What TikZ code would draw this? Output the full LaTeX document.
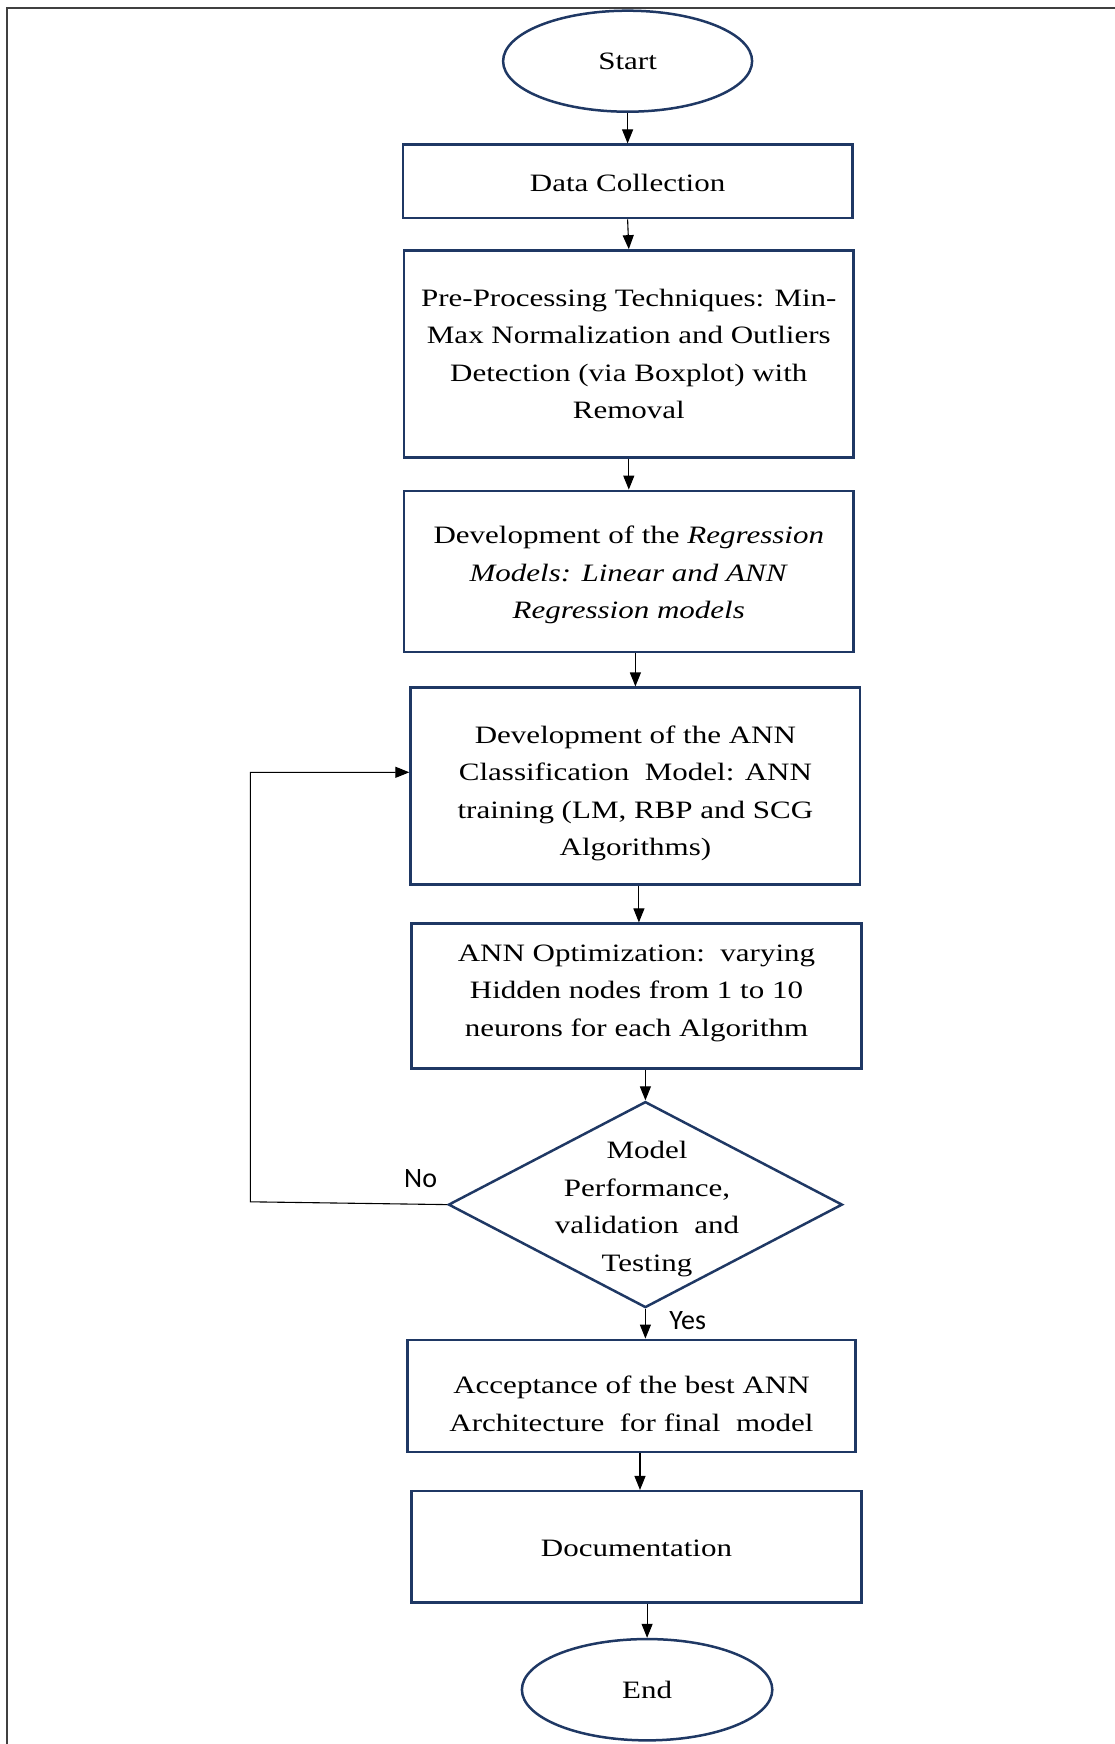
\documentclass[tikz,border=0pt]{standalone}
\usepackage{fontspec}
\setmainfont{Liberation Serif}[FakeStretch=1.24]
\newfontfamily\labfont{Carlito}
\usetikzlibrary{shapes.geometric,arrows.meta}
\definecolor{navy}{RGB}{31,56,100}
\newcommand{\mvtxt}[2]{\raisebox{#1}[\height][\depth]{#2}}
\begin{document}
\begin{tikzpicture}[x=1pt,y=-1pt,
  every node/.style={font=\fontsize{25}{37.5}\selectfont},
  box/.style={draw=navy, line width=2.5pt, rectangle, align=center, inner sep=0pt},
  term/.style={draw=navy, line width=2.5pt, ellipse, inner sep=0pt},
  arr/.style={draw=black, line width=1.1pt, -{Triangle[width=11pt,length=14pt]}},
  lab/.style={font=\labfont\fontsize{28}{30}\selectfont, inner sep=0pt}]
\useasboundingbox (0,0) rectangle (1115,1744);
\draw[line width=2.5pt, black!75] (7,1744) -- (7,8) -- (1115,8);

\node[term, minimum width=249pt, minimum height=101pt] (start) at (627.6,61.2) {Start};
\node[box, minimum width=449.6pt, minimum height=73.4pt] (data) at (627.6,181.4) {\mvtxt{-2pt}{Data Collection}};
\node[box, minimum width=449.5pt, minimum height=207pt] (pre) at (628.8,353.9)
  {\mvtxt{-1pt}{\begin{tabular}{@{}c@{}}Pre-Processing Techniques: Min-\\Max Normalization and Outliers\\Detection (via Boxplot) with\\Removal\end{tabular}}};
\node[box, minimum width=449.5pt, minimum height=161.3pt] (reg) at (628.8,571.5)
  {\mvtxt{-2pt}{\begin{tabular}{@{}c@{}}Development of the \textit{Regression}\\\textit{Models: Linear and ANN}\\\textit{Regression models}\end{tabular}}};
\node[box, minimum width=449.6pt, minimum height=197pt] (cls) at (635.4,786.2)
  {\mvtxt{-6pt}{\begin{tabular}{@{}c@{}}Development of the ANN\\Classification\ \ Model: ANN\\training (LM, RBP and SCG\\Algorithms)\end{tabular}}};
\node[box, minimum width=449.6pt, minimum height=144.7pt] (opt) at (636.5,996)
  {\mvtxt{5pt}{\begin{tabular}{@{}c@{}}ANN Optimization:\ \ varying\\Hidden nodes from 1 to 10\\neurons for each Algorithm\end{tabular}}};
\node[diamond, draw=navy, line width=2.5pt, minimum width=394pt, minimum height=206pt, inner sep=0pt] (dia) at (645.4,1204.6) {};
\node[align=center, inner sep=0pt] (diatext) at (647,1209) {Model\\Performance,\\validation\ \ and\\Testing};
\node[box, minimum width=448.4pt, minimum height=112.4pt] (acc) at (631.5,1396)
  {\mvtxt{-9pt}{\begin{tabular}{@{}c@{}}Acceptance of the best ANN\\Architecture\ \ for final\ \ model\end{tabular}}};
\node[box, minimum width=449.6pt, minimum height=111.2pt] (doc) at (636.5,1546.8) {\mvtxt{-2pt}{Documentation}};
\node[term, minimum width=250.4pt, minimum height=101.3pt] (end) at (647.1,1689.7) {End};

\coordinate (loopa) at (250.4,1201.8);
\coordinate (loopb) at (250.4,772.3);

\draw[arr] (start.south) -- (data.north);
\draw[arr] (data.south) -- (pre.north);
\draw[arr] (pre.south) -- (reg.north);
\draw[arr] (reg.south -| cls.north) -- (cls.north);
\draw[arr] ([xshift=3.5pt]cls.south) -- ([xshift=3.5pt]cls.south |- opt.north);
\draw[arr] (opt.south -| dia.north) -- (dia.north);
\draw[arr] (dia.south) -- (dia.south |- acc.north);
\draw[arr] ([xshift=8.5pt]acc.south) -- ([xshift=8.5pt]acc.south |- doc.north);
\draw[arr] (doc.south -| end.north) -- (end.north);
\draw[arr] (dia.west) -- (loopa) -- (loopb) -- (loopb -| cls.west);

\node[lab] (no) at (420.6,1178.5) {No};
\node[lab] (yes) at (687.7,1321) {Yes};
\end{tikzpicture}
\end{document}
